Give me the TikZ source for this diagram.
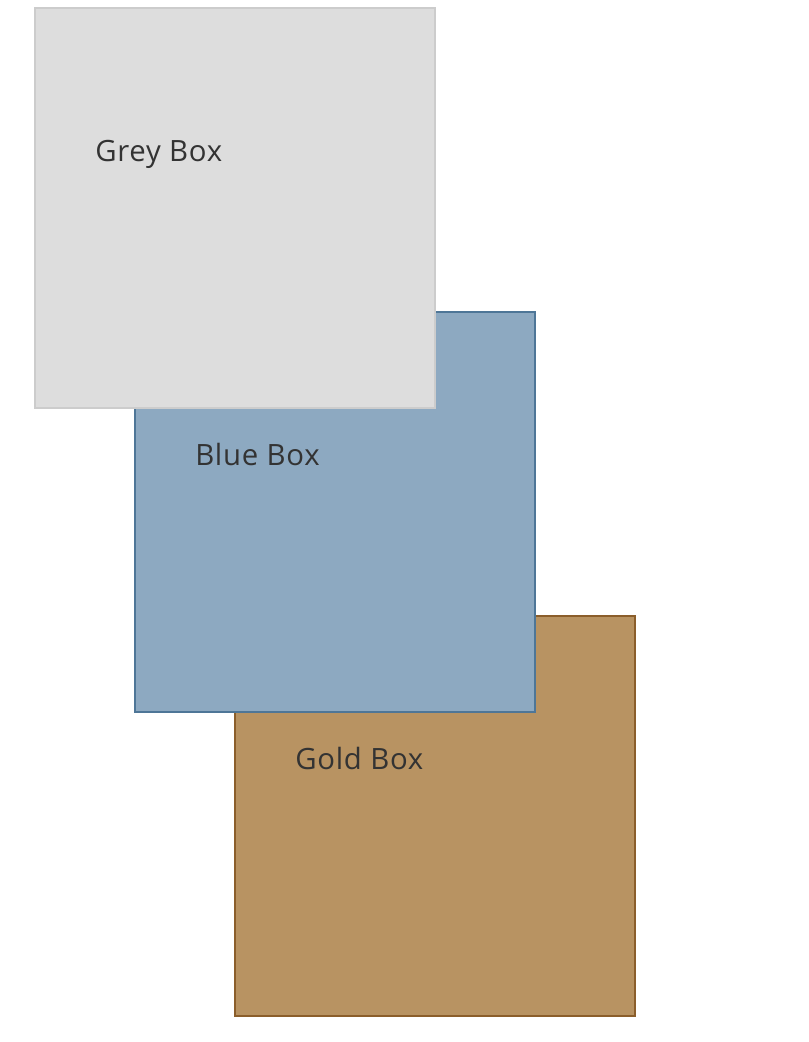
\documentclass[tikz,border=0pt]{standalone}
\usepackage{fontspec}
\setmainfont[LetterSpace=2.5]{Open Sans}
\usetikzlibrary{positioning}
\definecolor{greyfill}{HTML}{DDDDDD}
\definecolor{greyline}{HTML}{CCCCCC}
\definecolor{bluefill}{HTML}{8DA9C1}
\definecolor{blueline}{HTML}{4E7697}
\definecolor{goldfill}{HTML}{B89362}
\definecolor{goldline}{HTML}{8B5E2B}
\definecolor{labeltext}{HTML}{333333}
\tikzset{
    box/.style={draw, line width=1.5pt, minimum width=300pt, minimum height=300pt, inner sep=0pt},
    boxlabel/.style={anchor=base west, inner sep=0pt, text=labeltext, font=\fontsize{22}{26}\selectfont}
}
\begin{document}
\begin{tikzpicture}[x=0.75pt, y=-0.75pt]
    \useasboundingbox (0,0) rectangle (808,1042);
    \node[box, fill=goldfill, draw=goldline] (gold) at (435,815.5) {};
    \node[box, fill=bluefill, draw=blueline] (blue) at (335,511.5) {};
    \node[box, fill=greyfill, draw=greyline] (grey) at (235,207.5) {};
    \node[boxlabel] (greylabel) at (95,161) {Grey Box};
    \node[boxlabel] (bluelabel) at (195,465) {Blue Box};
    \node[boxlabel] (goldlabel) at (295,769) {Gold Box};
\end{tikzpicture}
\end{document}
